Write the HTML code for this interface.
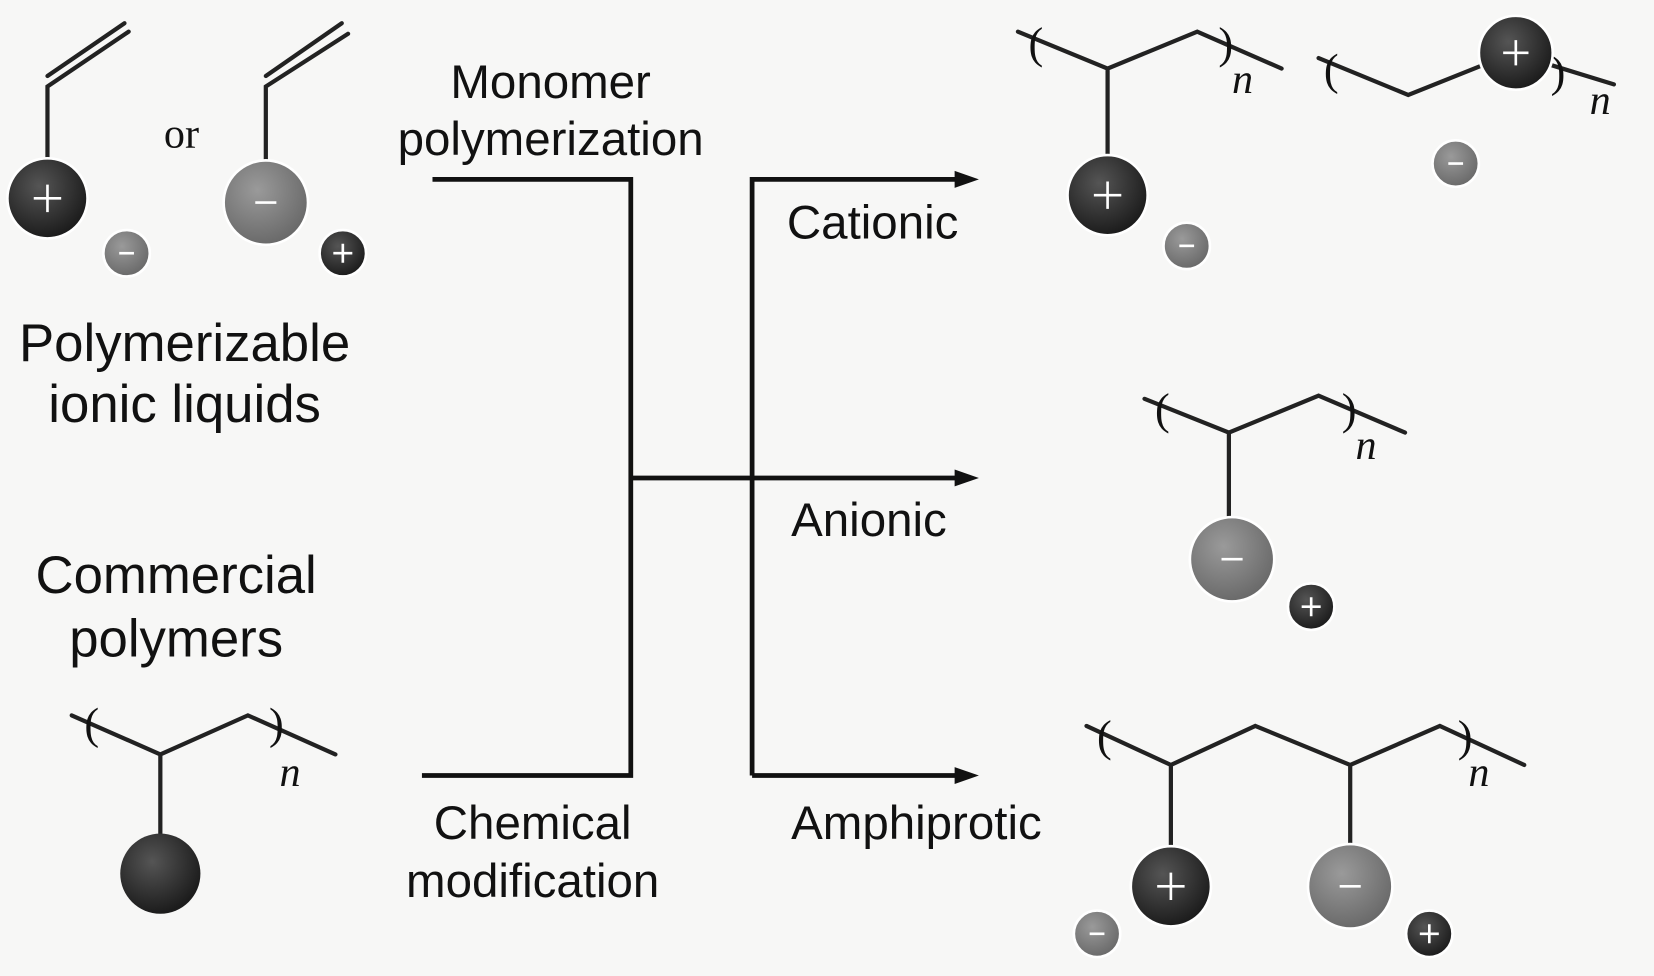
<!DOCTYPE html>
<html><head><meta charset="utf-8"><style>
html,body{margin:0;padding:0;background:#f7f7f6;}
svg{display:block}
text{font-family:"Liberation Sans",sans-serif;fill:#111}
</style></head><body>
<svg width="1654" height="976" viewBox="0 0 1568 925" preserveAspectRatio="none" xmlns="http://www.w3.org/2000/svg">
<defs>
<radialGradient id="dk" cx="40%" cy="35%" r="65%"><stop offset="0" stop-color="#555"/><stop offset="1" stop-color="#1c1c1c"/></radialGradient>
<radialGradient id="gy" cx="40%" cy="35%" r="65%"><stop offset="0" stop-color="#9a9a9a"/><stop offset="1" stop-color="#6a6a6a"/></radialGradient>
</defs>
<rect width="1568" height="925" fill="#f7f7f6"/>
<g stroke="#222" stroke-width="4" fill="none" stroke-linecap="round">
<path d="M45,160 V82 L122,30 M45,72 L118,22"/>
<path d="M252,160 V82 L330,32 M252,72 L324,22"/>
<path d="M68,678 L152,715 L235,678 L318,715 M152,715 V800"/>
<path d="M965,30 L1050,65 L1135,30 L1215,65 M1050,65 V150"/>
<path d="M1250,55 L1335,90 L1410,60 M1465,60 L1530,80"/>
<path d="M1085,378 L1165,410 L1250,375 L1332,410 M1165,410 V490"/>
<path d="M1030,688 L1110,725 L1190,688 L1280,725 L1365,688 L1445,725 M1110,725 V802 M1280,725 V800"/>
</g>
<g font-size="42" fill="#222">
<text x="80" y="700" style="font-family:'Liberation Serif',serif">(</text>
<text x="255" y="700" style="font-family:'Liberation Serif',serif">)</text>
<text x="975" y="55" style="font-family:'Liberation Serif',serif">(</text>
<text x="1155" y="55" style="font-family:'Liberation Serif',serif">)</text>
<text x="1255" y="80" style="font-family:'Liberation Serif',serif">(</text>
<text x="1470" y="82" style="font-family:'Liberation Serif',serif">)</text>
<text x="1095" y="402" style="font-family:'Liberation Serif',serif">(</text>
<text x="1272" y="402" style="font-family:'Liberation Serif',serif">)</text>
<text x="1040" y="712" style="font-family:'Liberation Serif',serif">(</text>
<text x="1382" y="712" style="font-family:'Liberation Serif',serif">)</text>
</g>
<g font-size="40">
<text x="265" y="745" style="font-family:'Liberation Serif',serif;font-style:italic">n</text>
<text x="1168" y="88" style="font-family:'Liberation Serif',serif;font-style:italic">n</text>
<text x="1507" y="108" style="font-family:'Liberation Serif',serif;font-style:italic">n</text>
<text x="1285" y="435" style="font-family:'Liberation Serif',serif;font-style:italic">n</text>
<text x="1392" y="745" style="font-family:'Liberation Serif',serif;font-style:italic">n</text>
</g>
<g stroke="#fff" stroke-width="2.5">
<circle cx="45" cy="188" r="38" fill="url(#dk)"/><path d="M32,188h26M45,175v26"/>
<circle cx="120" cy="240" r="22" fill="url(#gy)"/><path d="M113,240h14"/>
<circle cx="252" cy="192" r="40" fill="url(#gy)"/><path d="M242,192h20"/>
<circle cx="325" cy="240" r="22" fill="url(#dk)"/><path d="M316,240h18M325,231v18"/>
<circle cx="152" cy="828" r="38" fill="url(#dk)" stroke="none"/>
<circle cx="1050" cy="185" r="38" fill="url(#dk)"/><path d="M1037,185h26M1050,172v26"/>
<circle cx="1125" cy="233" r="22" fill="url(#gy)"/><path d="M1118,233h14"/>
<circle cx="1437" cy="50" r="35" fill="url(#dk)"/><path d="M1425,50h24M1437,38v24"/>
<circle cx="1380" cy="155" r="22" fill="url(#gy)"/><path d="M1373,155h14"/>
<circle cx="1168" cy="530" r="40" fill="url(#gy)"/><path d="M1158,530h20"/>
<circle cx="1243" cy="575" r="22" fill="url(#dk)"/><path d="M1234,575h18M1243,566v18"/>
<circle cx="1110" cy="840" r="38" fill="url(#dk)"/><path d="M1097,840h26M1110,827v26"/>
<circle cx="1040" cy="885" r="22" fill="url(#gy)"/><path d="M1033,885h14"/>
<circle cx="1280" cy="840" r="40" fill="url(#gy)"/><path d="M1270,840h20"/>
<circle cx="1355" cy="885" r="22" fill="url(#dk)"/><path d="M1346,885h18M1355,876v18"/>
</g>
<g stroke="#111" stroke-width="4.5" fill="none">
<path d="M410,170 H598 V735 H400"/>
<path d="M598,453 H915"/>
<path d="M713,735 V170 H915 M713,735 H915"/>
</g>
<g fill="#111">
<path d="M928,170 L905,162 L905,178z"/>
<path d="M928,453 L905,445 L905,461z"/>
<path d="M928,735 L905,727 L905,743z"/>
</g>
<text x="172" y="140" font-size="40" style="font-family:'Liberation Serif',serif" text-anchor="middle">or</text>
<g font-size="50">
<text x="175" y="342" text-anchor="middle">Polymerizable</text>
<text x="175" y="400" text-anchor="middle">ionic liquids</text>
<text x="167" y="562" text-anchor="middle">Commercial</text>
<text x="167" y="622" text-anchor="middle">polymers</text>
</g>
<g font-size="45">
<text x="522" y="93" text-anchor="middle">Monomer</text>
<text x="522" y="147" text-anchor="middle">polymerization</text>
<text x="505" y="795" text-anchor="middle">Chemical</text>
<text x="505" y="850" text-anchor="middle">modification</text>
<text x="746" y="226">Cationic</text>
<text x="750" y="508">Anionic</text>
<text x="750" y="795">Amphiprotic</text>
</g>
</svg>
</body></html>
